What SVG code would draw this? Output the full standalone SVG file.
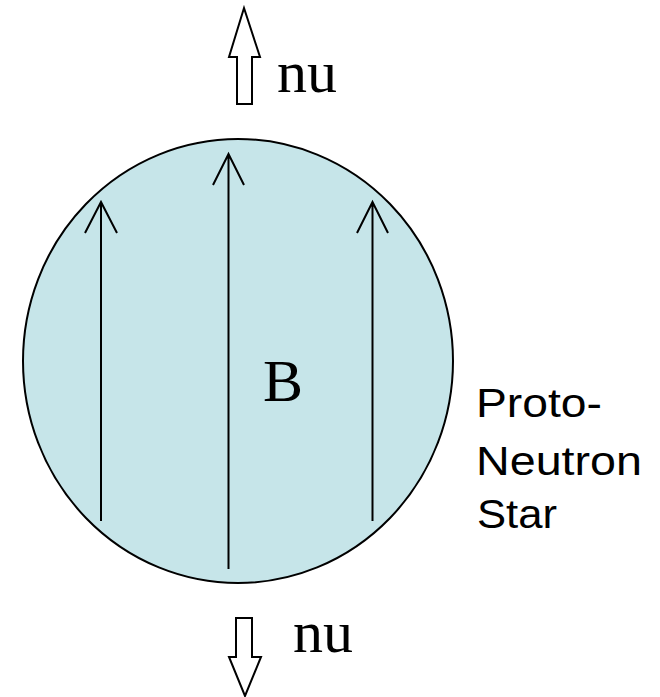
<svg xmlns="http://www.w3.org/2000/svg" width="660" height="697" viewBox="0 0 660 697">
<style>
.ln{stroke:#000;stroke-width:2;fill:none;stroke-linecap:butt}
.blk{stroke:#000;stroke-width:2;fill:#fff;stroke-linejoin:miter}
.serif{font-family:"Liberation Serif","Times New Roman",serif;font-size:60px;fill:#000}
.sans{font-family:"Liberation Sans",Arial,sans-serif;font-size:40px;fill:#000}
</style>
<rect width="660" height="697" fill="#fff"/>
<g id="star">
<ellipse cx="238" cy="361" rx="215" ry="222" fill="#C6E5E9" stroke="#000" stroke-width="2"/>
</g>
<g id="field-lines">
<path class="ln" d="M101,521 V202 M85,233 L101,202 L117,233"/>
<path class="ln" d="M228.5,569 V154 M213,185 L228.5,154 L244,185"/>
<path class="ln" d="M372.5,521 V202 M357,233 L372.5,202 L388,233"/>
</g>
<g id="nu-up">
<polygon class="blk" points="244,8 260,57 252,57 252,104 237,104 237,57 229,57"/>
<text class="serif" x="277" y="92">nu</text>
</g>
<g id="nu-down">
<polygon class="blk" points="236,618 252,618 252,657 261,657 245,696 229,657 236,657"/>
<text class="serif" x="293" y="652">nu</text>
</g>
<g id="label-B">
<text class="serif" x="263" y="401">B</text>
</g>
<g id="label-pns">
<text class="sans" x="476" y="417" textLength="126" lengthAdjust="spacingAndGlyphs">Proto-</text>
<text class="sans" x="476" y="475" textLength="166" lengthAdjust="spacingAndGlyphs">Neutron</text>
<text class="sans" x="477" y="528" textLength="80" lengthAdjust="spacingAndGlyphs">Star</text>
</g>
</svg>
